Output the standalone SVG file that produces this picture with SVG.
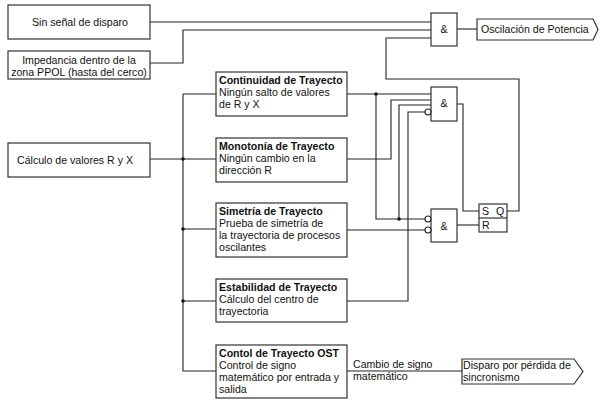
<svg xmlns="http://www.w3.org/2000/svg" width="600" height="401" viewBox="0 0 600 401">
<style>
.box{fill:#fff;stroke:#333;stroke-width:1.2}
.w{fill:none;stroke:#222;stroke-width:1.1}
.t{font-family:"Liberation Sans",Arial,sans-serif;font-size:10.6px;fill:#111}
.b{font-weight:bold}
.c{text-anchor:middle}
.neg{fill:#fff;stroke:#222;stroke-width:1.1}
.dot{fill:#111}
</style>
<rect width="600" height="401" fill="#fff"/>
<g id="connectors">
<path class="w" d="M150 22H431"/>
<path class="w" d="M150 63H183V30H431"/>
<path class="w" d="M457 29H477"/>
<path class="w" d="M150 159H183"/>
<path class="w" d="M183 94V371H216"/>
<path class="w" d="M183 94H216"/>
<path class="w" d="M183 159H216"/>
<path class="w" d="M183 229H216"/>
<path class="w" d="M183 301H216"/>
<path class="w" d="M347 94H431"/>
<path class="w" d="M376 94V219H425"/>
<path class="w" d="M347 159H391V100H431"/>
<path class="w" d="M399 219V105H431"/>
<path class="w" d="M347 301H408V112H425"/>
<path class="w" d="M347 230H425"/>
<path class="w" d="M457 104H463V211H479"/>
<path class="w" d="M457 225H479"/>
<path class="w" d="M507 211H519V79H386V38H431"/>
<path class="w" d="M347 371H462"/>
<circle class="dot" cx="183" cy="159" r="1.8"/>
<circle class="dot" cx="183" cy="229" r="1.8"/>
<circle class="dot" cx="183" cy="301" r="1.8"/>
<circle class="dot" cx="376" cy="94" r="1.8"/>
<circle class="dot" cx="399" cy="219" r="1.8"/>
<text class="t" x="353" y="368">Cambio de signo</text>
<text class="t" x="353" y="380">matemático</text>
</g>
<g id="sin-senal">
<rect class="box" x="8" y="5" width="142" height="34"/>
<text class="t c" x="80" y="26">Sin señal de disparo</text>
</g>
<g id="impedancia">
<rect class="box" x="8" y="51" width="142" height="28"/>
<text class="t c" x="79" y="64">Impedancia dentro de la</text>
<text class="t c" x="79" y="76">zona PPOL (hasta del cerco)</text>
</g>
<g id="calculo">
<rect class="box" x="8" y="143" width="142" height="34"/>
<text class="t c" x="75" y="164">Cálculo de valores R y X</text>
</g>
<g id="continuidad">
<rect class="box" x="216" y="72" width="131" height="44"/>
<text class="t b" x="219" y="84">Continuidad de Trayecto</text>
<text class="t" x="219" y="96">Ningún salto de valores</text>
<text class="t" x="219" y="108">de R y X</text>
</g>
<g id="monotonia">
<rect class="box" x="216" y="138" width="131" height="44"/>
<text class="t b" x="219" y="150">Monotonía de Trayecto</text>
<text class="t" x="219" y="162">Ningún cambio en la</text>
<text class="t" x="219" y="174">dirección R</text>
</g>
<g id="simetria">
<rect class="box" x="216" y="203" width="131" height="54"/>
<text class="t b" x="219" y="215">Simetría de Trayecto</text>
<text class="t" x="219" y="227">Prueba de simetría de</text>
<text class="t" x="219" y="239">la trayectoria de procesos</text>
<text class="t" x="219" y="251">oscilantes</text>
</g>
<g id="estabilidad">
<rect class="box" x="216" y="279" width="131" height="43"/>
<text class="t b" x="219" y="291">Estabilidad de Trayecto</text>
<text class="t" x="219" y="303">Cálculo del centro de</text>
<text class="t" x="219" y="315">trayectoria</text>
</g>
<g id="ost">
<rect class="box" x="216" y="345" width="131" height="53"/>
<text class="t b" x="219" y="357">Contol de Trayecto OST</text>
<text class="t" x="219" y="369">Control de signo</text>
<text class="t" x="219" y="381">matemático por entrada y</text>
<text class="t" x="219" y="393">salida</text>
</g>
<g id="and1">
<rect class="box" x="431" y="13" width="26" height="33"/>
<text class="t c" x="444" y="33">&amp;</text>
</g>
<g id="and2">
<rect class="box" x="431" y="87" width="26" height="34"/>
<circle class="neg" cx="428" cy="112" r="3"/>
<text class="t c" x="444" y="107">&amp;</text>
</g>
<g id="and3">
<rect class="box" x="431" y="209" width="26" height="33"/>
<circle class="neg" cx="428" cy="219" r="3"/>
<circle class="neg" cx="428" cy="230" r="3"/>
<text class="t c" x="444" y="230">&amp;</text>
</g>
<g id="sr">
<rect class="box" x="479" y="204" width="28" height="28"/>
<path class="w" d="M479 218H507"/>
<text class="t" x="482" y="215">S</text>
<text class="t" x="496" y="215">Q</text>
<text class="t" x="482" y="229">R</text>
</g>
<g id="oscilacion">
<path class="box" d="M477 19H593L598 29.5L593 40H477Z"/>
<text class="t" x="481" y="33">Oscilación de Potencia</text>
</g>
<g id="disparo">
<path class="box" d="M462 359H574L583 371.5L574 384H462Z"/>
<text class="t" x="463" y="369">Disparo por pérdida de</text>
<text class="t" x="463" y="381">sincronismo</text>
</g>
</svg>
